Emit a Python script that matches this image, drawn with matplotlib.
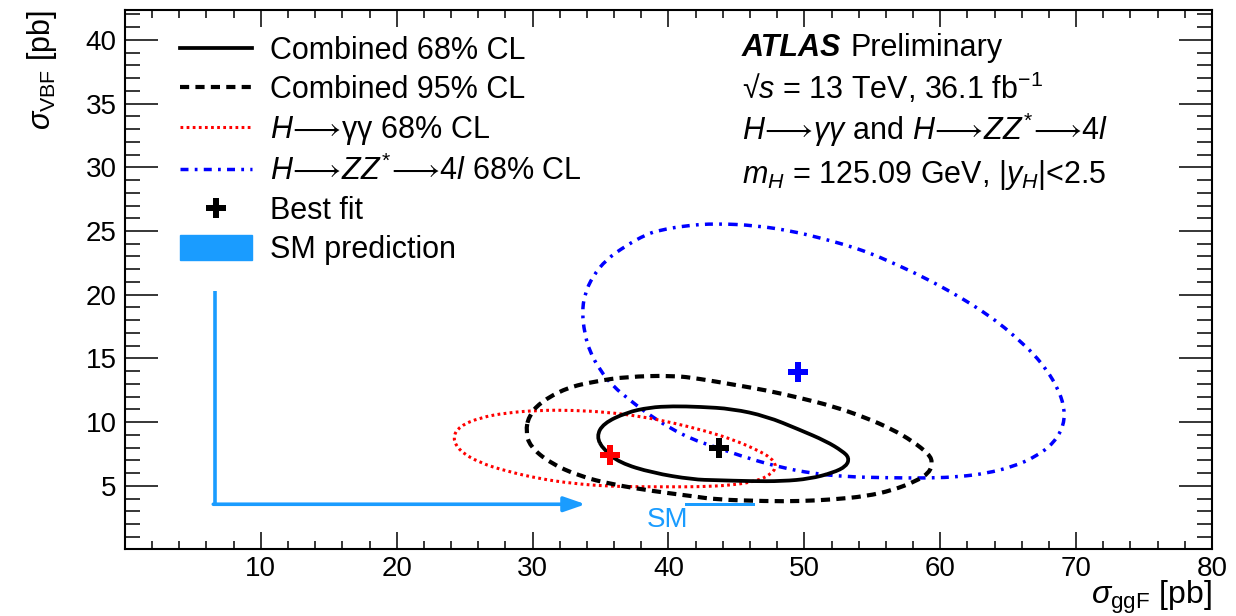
import numpy as np
import matplotlib
matplotlib.use("Agg")
import matplotlib.pyplot as plt
from matplotlib.lines import Line2D
from matplotlib.patches import Patch, Rectangle, PathPatch
from matplotlib.path import Path
from matplotlib.ticker import MultipleLocator

plt.rcParams["font.family"] = ["Liberation Sans", "DejaVu Sans"]
plt.rcParams["mathtext.fontset"] = "custom"
plt.rcParams["mathtext.rm"] = "Liberation Sans"
plt.rcParams["mathtext.it"] = "Liberation Sans:italic"
plt.rcParams["mathtext.bf"] = "Liberation Sans:bold"

# contours (sigma_ggF, sigma_VBF) in pb
comb68_ggf = [34.7, 35.2, 36.9, 38.6, 40.3, 42.3, 44.7, 47.2, 49.6, 51.6, 52.8, 53.3,
              53.1, 52.1, 50.4, 48.4, 46.0, 43.5, 41.8, 38.8, 36.4, 35.2]
comb68_vbf = [8.87, 9.89, 10.75, 11.15, 11.25, 11.20, 11.04, 10.46, 9.42, 8.50, 7.72, 7.20,
              6.54, 6.02, 5.55, 5.36, 5.36, 5.44, 5.49, 6.02, 6.81, 7.85]

comb95_ggf = [29.5, 29.8, 31.25, 33.46, 35.9, 38.85, 41.79, 43.51, 47.18, 49.63, 52.08, 54.54,
              56.49, 58.21, 59.19, 59.43, 59.19, 57.96, 56.49, 54.54, 52.08, 49.63, 47.18,
              44.73, 42.28, 40.32, 36.89, 34.68, 32.48, 30.51, 29.71]
comb95_vbf = [9.26, 8.11, 6.81, 5.75, 5.10, 4.58, 4.18, 3.92, 3.79, 3.79, 3.92, 4.18,
              4.65, 5.36, 6.02, 6.81, 7.46, 8.50, 9.42, 10.34, 11.25, 11.91, 12.50,
              12.95, 13.40, 13.66, 13.56, 13.21, 12.69, 11.51, 10.44]

yy68_ggf = [24.10, 24.63, 26.10, 28.07, 30.51, 32.96, 35.42, 37.87, 40.32, 42.28, 44.73, 46.45,
            47.55, 47.96, 47.55, 46.45, 44.73, 42.77, 40.32, 37.87, 35.42, 32.96, 30.51,
            28.07, 26.10, 24.63]
yy68_vbf = [8.77, 7.72, 6.81, 6.15, 5.55, 5.18, 4.97, 4.92, 4.92, 4.92, 5.05, 5.36,
            5.89, 6.54, 7.20, 7.85, 8.63, 9.29, 9.95, 10.46, 10.78, 10.93, 10.93,
            10.73, 10.34, 9.68]

zz68_ggf = [43.51, 41.30, 39.34, 38.36, 36.89, 35.42, 34.43, 33.82, 33.65, 33.82, 34.19, 34.93,
            35.90, 37.26, 38.36, 40.07, 41.79, 43.26, 45.96, 48.40, 50.61, 53.06, 56.00,
            59.19, 61.40, 63.36, 65.32, 67.04, 68.38, 69.12, 69.12, 68.63, 67.89, 66.91,
            65.68, 64.46, 62.99, 61.52, 59.93, 58.21, 56.49, 54.78, 52.94, 51.10, 49.14, 46.45]
zz68_vbf = [25.59, 25.43, 25.06, 24.73, 23.86, 22.76, 21.45, 20.02, 18.58, 17.01, 15.57, 14.13,
            12.82, 11.64, 10.73, 9.55, 8.63, 8.11, 7.12, 6.41, 5.97, 5.71, 5.63,
            5.60, 5.71, 5.97, 6.49, 7.28, 8.38, 9.81, 11.25, 12.69, 14.00, 15.31,
            16.54, 17.66, 18.78, 19.76, 20.72, 21.66, 22.50, 23.29, 23.94, 24.47, 24.98, 25.43]

# best fit points: combined, H->yy, H->ZZ
best_ggf = [43.75, 35.7, 49.5]
best_vbf = [7.93, 7.45, 13.9]

# SM prediction box and the pointer drawn to it
sm_ggf = [41.2, 46.4]
sm_vbf = [3.45, 3.65]
pointer_ggf = [6.6, 6.6, 33.9]
pointer_vbf = [20.3, 3.55, 3.55]

sm_color = "#1a9cff"
ls_95 = (0, (2.2, 1.5))
ls_yy = (0, (0.9, 1.1))
ls_zz = (0, (2.3, 1.8, 0.8, 1.8))

fig = plt.figure(figsize=(12.36, 6.16), dpi=100)
ax = fig.add_axes([0.1011, 0.108, 0.8795, 0.8758])


def smooth_contour(xs, ys, **kw):
    # closed quadratic-bezier path with the read points as control points
    pts = np.column_stack([xs, ys])
    n = len(pts)
    mids = (pts + np.roll(pts, -1, axis=0)) / 2
    verts = [mids[-1]]
    codes = [Path.MOVETO]
    for i in range(n):
        verts += [pts[i], mids[i]]
        codes += [Path.CURVE3, Path.CURVE3]
    return PathPatch(Path(verts, codes), fill=False, **kw)


ax.plot(pointer_ggf[:2], pointer_vbf[:2], color=sm_color, lw=2.6, solid_capstyle="butt", zorder=1)
ax.annotate("", xy=(pointer_ggf[2], pointer_vbf[2]), xytext=(pointer_ggf[1] - 0.1, pointer_vbf[1]),
            arrowprops=dict(arrowstyle="-|>,head_length=1.3,head_width=0.45", color=sm_color,
                            lw=2.6, shrinkA=0, shrinkB=0), zorder=1)
ax.add_patch(Rectangle((sm_ggf[0], sm_vbf[0]), sm_ggf[1] - sm_ggf[0], sm_vbf[1] - sm_vbf[0],
                       color=sm_color, lw=0, zorder=1))
ax.text(39.9, sm_vbf[0] - 0.1, "SM", color=sm_color, fontsize=20, ha="center", va="top")

ax.add_patch(smooth_contour(zz68_ggf, zz68_vbf, edgecolor="blue", lw=2.5, linestyle=ls_zz, zorder=2))
ax.add_patch(smooth_contour(yy68_ggf, yy68_vbf, edgecolor="red", lw=2.2, linestyle=ls_yy, zorder=3))
ax.add_patch(smooth_contour(comb95_ggf, comb95_vbf, edgecolor="black", lw=3, linestyle=ls_95, zorder=4))
ax.add_patch(smooth_contour(comb68_ggf, comb68_vbf, edgecolor="black", lw=2.7, zorder=5))

for gx, gy, c in zip(best_ggf, best_vbf, ["black", "red", "blue"]):
    ax.plot(gx, gy, marker="P", color=c, markersize=15, markeredgewidth=0, zorder=6)

ax.set_xlim(0, 80)
ax.set_ylim(0, 42.35)
ax.set_xticks(np.arange(10, 81, 10))
ax.set_yticks(np.arange(5, 41, 5))
ax.xaxis.set_minor_locator(MultipleLocator(2))
ax.yaxis.set_minor_locator(MultipleLocator(1))
ax.tick_params(which="both", direction="in", top=True, right=True, width=1.1, labelsize=20)
ax.tick_params(axis="x", which="major", length=12, pad=5)
ax.tick_params(axis="x", which="minor", length=6)
ax.tick_params(axis="y", which="major", length=24, pad=6)
ax.tick_params(axis="y", which="minor", length=11)
for s in ax.spines.values():
    s.set_linewidth(1.5)

fig.text(1212 / 1236, 1 - 597 / 616, r"$\sigma_{\mathrm{ggF}}$ [pb]", fontsize=23,
         ha="right", va="center")
fig.text(42 / 1236, 1 - 10 / 616, r"$\sigma_{\mathrm{VBF}}$ [pb]", fontsize=22,
         ha="center", va="top", rotation=90)

handles = [
    Line2D([], [], color="black", lw=2.7),
    Line2D([], [], color="black", lw=3, linestyle=ls_95),
    Line2D([], [], color="red", lw=2.2, linestyle=ls_yy),
    Line2D([], [], color="blue", lw=2.5, linestyle=ls_zz),
    Line2D([], [], color="black", marker="P", markersize=15, markeredgewidth=0, linestyle="none"),
    Patch(color=sm_color),
]
labels = [
    "Combined 68% CL",
    "Combined 95% CL",
    r"$H\!\longrightarrow\!\mathrm{\gamma\gamma}$ 68% CL",
    r"$H\!\longrightarrow\!ZZ^{*}\!\longrightarrow\!4l$ 68% CL",
    "Best fit",
    "SM prediction",
]
ax.legend(handles, labels, loc="upper left", bbox_to_anchor=(0.0506, 0.951), frameon=False,
          fontsize=22, handlelength=2.35, handleheight=0.85, handletextpad=0.6,
          labelspacing=0.29, borderpad=0, borderaxespad=0)

tx = (742 - 125) / 1087
atlas = ax.text(tx, (549.5 - 48) / 539.5, "ATLAS", transform=ax.transAxes,
                fontsize=22, va="center", ha="left", fontweight="bold", fontstyle="italic")
fig.canvas.draw()
bb = atlas.get_window_extent().transformed(ax.transAxes.inverted())
ax.text(bb.x1 + 0.008, (549.5 - 48) / 539.5, "Preliminary", transform=ax.transAxes,
        fontsize=22, va="center", ha="left")
ax.text(tx, (549.5 - 88) / 539.5, r"√$s$ = 13 TeV, 36.1 fb$^{-1}$", transform=ax.transAxes,
        fontsize=22, va="center", ha="left")
ax.text(tx, (549.5 - 130) / 539.5,
        r"$H\!\longrightarrow\!\gamma\gamma$ and $H\!\longrightarrow\!ZZ^{*}\!\longrightarrow\!4l$",
        transform=ax.transAxes, fontsize=22, va="center", ha="left")
ax.text(tx, (549.5 - 175) / 539.5, r"$m_{H}$ = 125.09 GeV, $|y_{H}|$<2.5",
        transform=ax.transAxes, fontsize=22, va="center", ha="left")

fig.savefig("out.png", dpi=100)
